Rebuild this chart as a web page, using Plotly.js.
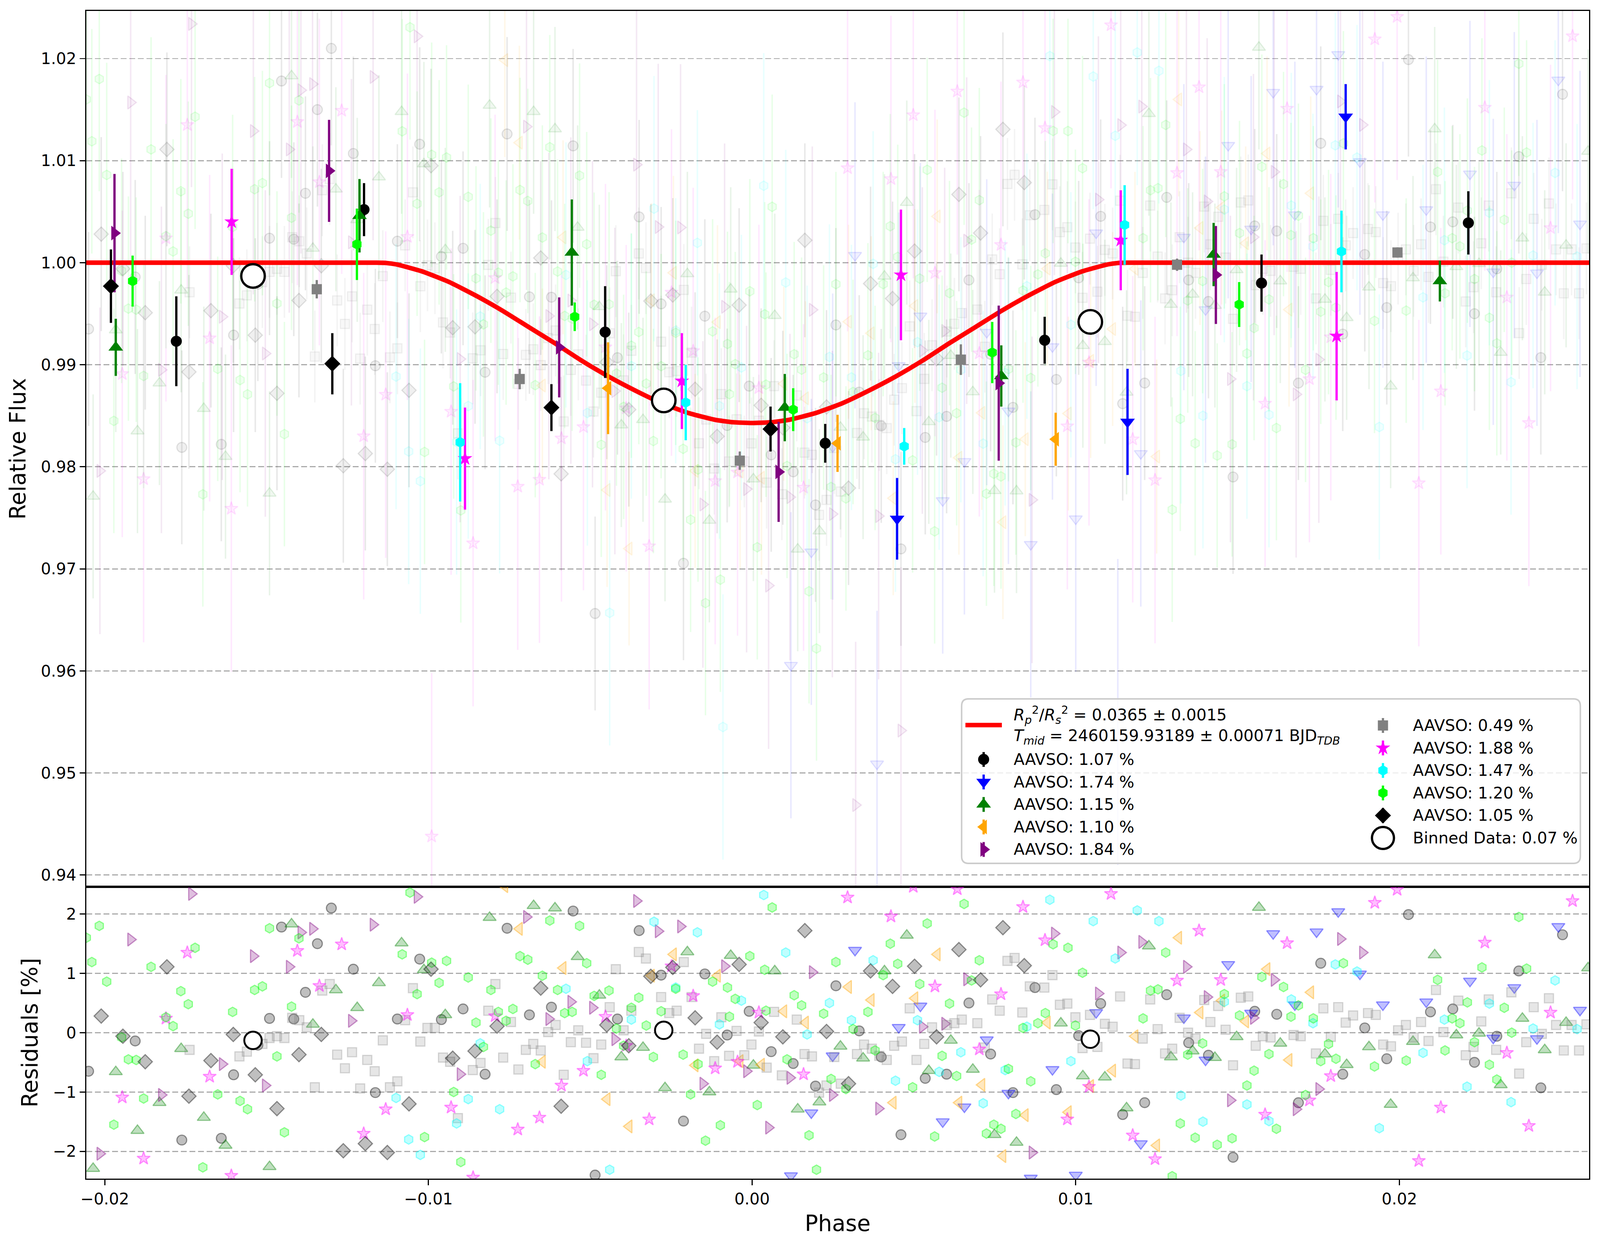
<!DOCTYPE html>
<html>
<head>
<meta charset="utf-8">
<script src="https://cdn.plot.ly/plotly-3.0.1.min.js"></script>
<style>html,body{margin:0;padding:0;background:#fff;overflow:hidden;}</style>
</head>
<body>
<div id="chart"></div>
<script>
// ---------------- DATA ----------------
const labels = ['AAVSO: 1.07 %','AAVSO: 1.74 %','AAVSO: 1.15 %','AAVSO: 1.10 %','AAVSO: 1.84 %',
                'AAVSO: 0.49 %','AAVSO: 1.88 %','AAVSO: 1.47 %','AAVSO: 1.20 %','AAVSO: 1.05 %'];
const binnedLabel = 'Binned Data: 0.07 %';
const modelLabel = '<i>R</i><sub><i>p</i></sub><sup>2</sup>/<i>R</i><sub><i>s</i></sub><sup>2</sup> = 0.0365 ± 0.0015<br><i>T</i><sub><i>mid</i></sub> = 2460159.93189 ± 0.00071 BJD<sub><i>TDB</i></sub>';

// transit model curve
const modelPhase = [-0.0206,-0.0116,-0.0113,-0.0110,-0.0102,-0.00937,-0.00855,-0.00773,-0.00691,-0.00609,-0.00527,-0.00445,-0.00361,-0.00279,-0.00197,-0.00115,-0.0006,0,
                    0.0006,0.00115,0.00197,0.00279,0.00361,0.00445,0.00527,0.00609,0.00691,0.00773,0.00855,0.00937,0.0102,0.0110,0.0113,0.0116,0.0259];
const modelFlux  = [1,1,0.99997,0.99984,0.99915,0.99812,0.9968,0.99533,0.99371,0.9921,0.99041,0.98887,0.98747,0.98623,0.98527,0.98461,0.98437,0.98429,
                    0.98437,0.98461,0.98527,0.98623,0.98747,0.98887,0.99041,0.9921,0.99371,0.99533,0.9968,0.99812,0.99915,0.99984,0.99997,1,1];

// typical raw error per dataset (relative flux)
const rawErr = [0.0095,0.015,0.010,0.0095,0.016,0.0045,0.016,0.013,0.011,0.0095];

// dataset 1 (1.07 %) raw phase / residual [%]
const d1Phase = [-0.0205,-0.01906,-0.01762,-0.0164,-0.01602,-0.01527,-0.01491,-0.01454,-0.01416,-0.0138,-0.01343,-0.013,-0.01232,-0.01164,-0.01096,-0.01027,-0.0096,-0.00893,-0.00825,-0.00757,-0.00688,-0.0062,-0.00553,-0.00485,-0.00416,-0.00349,-0.00281,-0.00212,-0.00146,-0.00077,-0.00009,0.00059,0.00127,0.00196,0.00259,0.00331,0.00399,0.0046,0.00535,0.00601,0.0067,0.00737,0.00806,0.00874,0.0094,0.01009,0.01077,0.01145,0.01213,0.01281,0.01349,0.0141,0.01486,0.01553,0.01621,0.01688,0.01757,0.01825,0.01893,0.01961,0.02028,0.02096,0.02165,0.02232,0.02301,0.02369,0.02437,0.02504];
const d1Res   = [-0.65,-0.14,-1.81,-1.78,-0.71,-0.21,0.24,1.78,0.23,0.68,1.50,2.10,1.07,-1.01,0.23,1.24,0.22,0.40,-0.70,1.76,0.30,0.43,2.05,-2.40,0.23,1.72,0.97,-1.49,0.99,-0.04,0.36,-0.32,-0.52,-0.90,0.79,0.03,-0.41,-1.72,-0.77,-0.70,0.50,-0.36,-1.01,0.76,-0.96,-0.05,0.49,-1.38,-1.18,0.64,-0.17,-0.38,-2.10,0.36,0.31,-1.18,1.17,-0.70,0.08,-0.44,1.99,0.35,0.40,-0.50,-0.06,1.04,-0.93,1.65];
const d1BinPhase = [-0.01779,-0.01199,-0.00454,0.00226,0.00904,0.01574,0.02213];
const d1BinFlux  = [0.9923,1.0052,0.9932,0.9823,0.9924,0.9980,1.0039];
const d1BinErr   = [0.0044,0.0026,0.0045,0.0019,0.0023,0.0028,0.0031];

// dataset 2 (1.74 %)
const d2Phase = [0.0012,0.00183,0.00249,0.00318,0.00386,0.00453,0.0052,0.00589,0.00656,0.00725,0.00792,0.00861,0.00928,0.01,0.01063,0.0113,0.01201,0.01334,0.01401,0.01471,0.01542,0.0161,0.01677,0.01744,0.01811,0.01878,0.01949,0.02083,0.02218,0.0229,0.02355,0.02425,0.02491,0.02558];
const d2Res   = [-2.41,-1.35,-0.39,1.39,-3.7,0.09,0.45,-1.50,-1.25,-0.12,-1.02,-2.45,-0.62,-2.40,0.34,-4.4,-1.87,0.25,-0.46,1.15,0.33,1.67,0.47,1.70,2.04,0.99,0.47,0.52,0.87,-0.09,0.76,-0.10,1.79,0.38];
const d2BinPhase = [0.00448,0.0116,0.01834];
const d2BinFlux  = [0.9749,0.9844,1.0143];
const d2BinErr   = [0.0040,0.0052,0.0032];

// dataset 3 (1.15 %)
const d3Phase = [-0.02036,-0.01966,-0.01899,-0.01831,-0.01764,-0.01694,-0.01627,-0.01491,-0.01423,-0.01357,-0.01286,-0.0122,-0.01153,-0.01083,-0.01014,-0.00948,-0.00811,-0.00675,-0.00609,-0.00539,-0.00472,-0.00404,-0.00337,-0.00269,-0.002,-0.00132,-0.00066,0.00004,0.0007,0.00141,0.00208,0.00273,0.00343,0.00409,0.00478,0.00546,0.00614,0.00682,0.00749,0.00817,0.00954,0.01022,0.0109,0.01157,0.01226,0.01294,0.01361,0.0143,0.01497,0.01566,0.01632,0.0177,0.01837,0.01906,0.01973,0.02042,0.02109,0.02176,0.02246,0.02313,0.0238,0.02449,0.02515,0.02583];
const d3Res   = [-2.29,-0.66,-1.65,-1.18,-0.27,-1.43,-1.90,-2.26,1.83,0.14,0.72,0.42,0.84,1.51,1.06,0.30,1.94,2.14,2.10,1.28,0.63,-0.41,-0.25,-0.93,1.36,-1.00,1.30,-0.55,1.04,-1.29,-1.17,-0.23,-0.43,1.04,1.64,-0.64,-0.13,-0.62,-1.72,-1.85,0.16,-0.73,-0.75,-1.27,1.46,-0.41,-0.31,-0.42,-0.07,2.11,-0.18,-0.36,-0.54,-0.24,-1.21,-0.15,1.31,-0.04,-0.01,-0.88,0.24,-0.29,0.17,1.09];
const d3BinPhase = [-0.01966,-0.01213,-0.00557,0.00101,0.0077,0.01426,0.02125];
const d3BinFlux  = [0.9917,1.0046,1.0010,0.9858,0.9889,1.0008,0.9982];
const d3BinErr   = [0.0028,0.0036,0.0052,0.0033,0.0030,0.0031,0.0020];

// dataset 4 (1.10 %)
const d4Phase = [-0.00764,-0.00719,-0.00648,-0.00584,-0.00448,-0.0038,-0.00311,-0.00243,-0.00176,-0.00107,-0.00037,0.00029,0.00098,0.00165,0.00298,0.00368,0.00436,0.00503,0.00572,0.00639,0.0071,0.00775,0.00844,0.00912,0.00977,0.01046,0.01114,0.01183,0.0125,0.01318,0.01384,0.01451,0.01525,0.01591,0.01659,0.01726];
const d4Res   = [2.47,1.75,-0.49,1.09,-1.12,-1.58,0.96,1.32,-0.55,0.96,-0.48,-0.54,0.36,0.17,0.77,0.55,-1.18,0.58,1.32,-1.18,-0.88,-2.08,-1.39,0.17,-1.34,-0.90,-0.64,-0.06,-1.90,1.60,0.34,0.54,0.19,1.07,-0.46,0.68];
const d4BinPhase = [-0.00445,0.00264,0.00938];
const d4BinFlux  = [0.9877,0.9823,0.9827];
const d4BinErr   = [0.0045,0.0028,0.0026];

// dataset 5 (1.84 %)
const d5Phase = [-0.02015,-0.0192,-0.01825,-0.01732,-0.01637,-0.01541,-0.01504,-0.0143,-0.01394,-0.01358,-0.01238,-0.01171,-0.01035,-0.00902,-0.00697,-0.00628,-0.0056,-0.00493,-0.00424,-0.00357,-0.0029,-0.00221,-0.00152,-0.00085,-0.00017,0.00051,0.00117,0.00186,0.00248,0.0032,0.00391,0.0046,0.00526,0.00595,0.00663,0.00865,0.00934,0.0107,0.01139,0.01204,0.01342,0.01406,0.01478,0.01549,0.01613,0.01681,0.01751,0.01818,0.01886];
const d5Res   = [-2.04,1.57,-1.05,2.34,-0.53,1.29,-0.89,1.11,1.69,1.75,0.20,1.82,2.29,-0.70,1.95,0.23,0.52,0.42,-0.11,2.22,1.71,1.79,-0.86,1.12,-0.65,-1.60,-0.76,1.02,-1.05,-4.0,-1.28,-3.5,0.10,0.15,0.90,-2.02,1.67,0.66,1.35,1.53,1.11,0.60,-1.14,0.25,0.89,-1.29,-0.95,1.58,1.35];
const d5BinPhase = [-0.0197,-0.01307,-0.00596,0.00082,0.00762,0.01433];
const d5BinFlux  = [1.0029,1.0090,0.9917,0.9795,0.9882,0.9988];
const d5BinErr   = [0.0058,0.0050,0.0049,0.0049,0.0076,0.0048];

// dataset 6 (0.49 %)
const d6Phase = [-0.01738,-0.01584,-0.01561,-0.01513,-0.01491,-0.01468,-0.01445,-0.01421,-0.01399,-0.01376,-0.01351,-0.01328,-0.01305,-0.01282,-0.01258,-0.01236,-0.01211,-0.01189,-0.01166,-0.01141,-0.01119,-0.01096,-0.01072,-0.01048,-0.01025,-0.01003,-0.0098,-0.00955,-0.00933,-0.00909,
  -0.00863,-0.00839,-0.00815,-0.00793,-0.00769,-0.00745,-0.00722,-0.00699,-0.00676,-0.00653,-0.0063,-0.00607,-0.00582,-0.0056,-0.00537,-0.00513,-0.0049,-0.00466,-0.0044,-0.00421,-0.00397,-0.00373,-0.0035,-0.00328,-0.00281,-0.00256,-0.00233,-0.00211,-0.00187,-0.00164,-0.00142,-0.00117,-0.00095,-0.00071,-0.00048,-0.00024,-0.00002,0.00021,0.00045,0.00068,0.00092,0.00138,0.00162,0.00185,0.00207,0.0023,
  0.00254,0.00274,0.00324,0.00346,0.0037,0.00393,0.00416,0.00439,0.00463,0.00487,0.00508,0.00532,0.00556,0.00602,0.00625,0.00648,0.00696,0.00719,0.00742,0.00765,0.00789,0.00811,0.00835,0.00858,0.00903,0.00928,0.00951,0.00974,0.00999,0.01021,0.01044,0.01067,0.0109,0.01114,0.01137,0.0116,0.01183,0.01207,0.0123,0.01253,0.01276,0.01298,0.01321,0.01347,0.0137,
  0.01397,0.01416,0.0144,0.01463,0.01486,0.0151,0.01533,0.01556,0.01578,0.01602,0.01673,0.01695,0.01742,0.01765,0.01788,0.01811,0.01834,0.01857,0.01903,0.01927,0.0195,0.01974,0.01996,0.0202,0.02044,0.02067,0.0209,0.02113,0.02136,0.02182,0.02205,0.02229,0.02253,0.02276,0.02299,0.02346,0.0237,0.02392,0.02415,0.0244,0.02462,0.02484,0.02508,0.02532,0.02555,0.02578];
const d6Res   = [-0.29,-0.40,-0.32,-0.19,-0.09,-0.06,-0.09,0.25,0.21,0.09,-0.92,0.71,0.82,-0.37,-0.60,-0.33,-0.94,-0.46,-0.65,-0.13,-0.92,-0.82,0.21,0.75,-0.15,0.08,0.08,-0.42,-0.49,-1.44,
  -0.63,-0.51,0.37,0.82,-0.42,0.18,-0.62,-0.29,-0.19,-0.30,0.01,0.13,-0.71,-0.16,0.04,-0.17,-0.43,-0.20,0.43,1.07,0.04,0.37,1.36,1.25,0.60,0.33,0.37,1.19,0.60,-0.27,-0.02,-0.48,0.26,-0.39,0.03,-0.38,-0.20,0.02,-0.59,0.35,-0.72,0.22,-0.36,-0.40,-1.01,-0.89,
  -0.41,-0.86,-0.36,-0.20,-0.27,-0.39,-0.46,-0.22,-0.15,0.41,-0.46,-0.19,0.09,0.13,0.16,0.22,0.16,-0.25,0.56,0.37,1.21,1.26,0.34,0.78,0.76,0.97,0.47,0.49,0.26,-0.26,0.30,-0.24,0.15,0.10,0.61,-0.52,-0.53,-0.10,0.56,0.06,-0.35,-0.27,0.25,0.00,-0.10,
  0.55,0.18,0.45,0.05,-0.55,0.59,0.61,-0.22,-0.06,-0.08,-0.04,-0.06,-0.35,0.41,-0.07,0.43,0.17,0.29,0.33,0.30,-0.20,-0.23,0.04,0.13,-0.08,0.18,-0.14,0.72,0.01,0.54,-0.38,-0.24,0.19,0.56,-0.29,0.68,-0.69,-0.16,0.43,-0.02,0.58,0.13,-0.30,0.13,-0.30,0.14];
const d6BinPhase = [-0.01345,-0.00718,-0.00038,0.00645,0.01313,0.01994];
const d6BinFlux  = [0.9974,0.9886,0.9806,0.9905,0.9998,1.0010];
const d6BinErr   = [0.0009,0.0010,0.0009,0.0015,0.0006,0.0005];

// dataset 7 (1.88 %)
const d7Phase = [-0.01946,-0.0188,-0.01811,-0.01745,-0.01676,-0.01609,-0.01405,-0.01337,-0.01268,-0.012,-0.01132,-0.01065,-0.0099,-0.0093,-0.00862,-0.00794,-0.00724,-0.00657,-0.00589,-0.00521,-0.00453,-0.00389,-0.00318,-0.00249,-0.00182,-0.00114,-0.00045,0.00021,0.00159,0.00295,0.00429,0.00498,0.00565,0.00634,0.00702,0.00769,0.00837,0.00905,0.00974,0.01041,0.01109,0.01176,0.01245,0.01313,0.01381,0.01448,0.01585,0.01653,0.01722,0.01788,0.01924,0.01993,0.0206,0.02128,0.02264,0.02332,0.024,0.02467,0.02535];
const d7Res   = [-1.09,-2.12,0.24,1.35,-0.74,-2.41,1.38,0.79,1.49,-1.70,-1.29,0.30,-5.5,-1.26,-2.44,0.28,-1.63,-1.43,-0.89,-0.64,0.27,-0.22,-1.46,1.12,0.62,-0.60,-0.49,0.34,-0.70,2.28,1.96,2.46,0.78,2.42,-0.28,0.65,2.12,1.56,-1.46,-0.91,2.34,-1.73,-2.13,0.88,1.72,0.89,-1.38,1.51,-1.14,-0.73,2.19,2.41,-2.16,-1.26,1.52,-0.34,-1.57,0.34,2.22];
const d7BinPhase = [-0.01608,-0.00887,-0.00217,0.0046,0.01139,0.01806];
const d7BinFlux  = [1.0040,0.9808,0.9884,0.9988,1.0022,0.9928];
const d7BinErr   = [0.0052,0.0050,0.0047,0.0064,0.0049,0.0063];

// dataset 8 (1.47 %)
const d8Phase = [-0.011,-0.01061,-0.01025,-0.00913,-0.00877,-0.0084,-0.0078,-0.00575,-0.00509,-0.0044,-0.00373,-0.00303,-0.00236,-0.00169,-0.00101,-0.0009,-0.00033,0.00036,0.00104,0.0017,0.00239,0.00307,0.00374,0.00443,0.00511,0.00578,0.00645,0.00714,0.00782,0.00849,0.0092,0.00985,0.01054,0.01122,0.0119,0.01257,0.01325,0.01393,0.01459,0.01529,0.01597,0.01666,0.01733,0.01802,0.01869,0.01938,0.02073,0.02139,0.02209,0.02278,0.02345,0.02413,0.02481,0.02549];
const d8Res   = [-1.10,-1.80,-2.06,-1.53,-1.12,-0.18,-1.29,0.74,-0.48,-2.31,0.22,1.87,0.76,1.69,0.14,-3.0,0.54,2.32,1.35,-0.03,0.50,0.21,1.22,-0.81,0.21,-0.66,-0.33,-1.19,-0.63,0.10,2.24,-0.48,1.88,1.25,2.06,1.88,-1.06,-1.50,0.52,-1.21,-1.49,0.56,0.16,1.15,1.03,-1.61,-0.34,0.22,-0.91,0.49,-1.17,0.07,0.88,0.06];
const d8BinPhase = [-0.00902,-0.00205,0.0047,0.01151,0.01821];
const d8BinFlux  = [0.9824,0.9863,0.9820,1.0037,1.0011];
const d8BinErr   = [0.0058,0.0037,0.0018,0.0039,0.0040];

// dataset 9 (1.20 %)
const d9Phase = [-0.02057,-0.0204,-0.02017,-0.01994,-0.01972,-0.01948,-0.01927,-0.01903,-0.0188,-0.01857,-0.01811,-0.01789,-0.01765,-0.01742,-0.01721,-0.01697,-0.01651,-0.01605,-0.01582,-0.01559,-0.01537,-0.01513,-0.01491,-0.01468,-0.01445,-0.01423,-0.014,-0.01081,-0.01057,-0.01035,-0.01012,-0.0099,-0.00967,-0.00944,-0.00922,-0.009,
  -0.00877,-0.00853,-0.0083,-0.00807,-0.00784,-0.0076,-0.00739,-0.00717,-0.00693,-0.0067,-0.00648,-0.00625,-0.00601,-0.00579,-0.00556,-0.00533,-0.00511,-0.00488,-0.00466,-0.00442,-0.00419,-0.00397,-0.00373,-0.0035,-0.00327,-0.00305,-0.00281,-0.00236,-0.00213,-0.0019,-0.00167,-0.00144,-0.00122,-0.00098,-0.00076,-0.0007,-0.00052,-0.00007,0.00016,0.00039,0.00043,0.00062,0.00108,0.0013,0.00153,0.00176,0.00199,0.00221,0.00244,0.00259,
  0.0029,0.00312,0.00358,0.0038,0.00405,0.00427,0.0045,0.00496,0.00518,0.00541,0.00564,0.00587,0.0061,0.00632,0.00655,0.00678,0.00702,0.00724,0.00747,0.00769,0.00792,0.00815,0.00837,0.00861,0.00883,0.00906,0.0093,0.00976,0.00999,0.01021,0.01208,0.01231,0.01254,0.01278,0.01298,0.01323,0.01346,0.01369,0.01392,
  0.01437,0.01459,0.01483,0.01506,0.01529,0.01551,0.01575,0.01597,0.0162,0.01642,0.01665,0.01688,0.0171,0.01734,0.01757,0.01781,0.01804,0.01827,0.01923,0.02021,0.02118,0.02141,0.02163,0.02187,0.0221,0.02232,0.02255,0.02278,0.02301,0.02324,0.02347,0.02369,0.02393];
const d9Res   = [1.60,1.19,1.80,0.86,-1.55,-0.08,-0.45,-0.46,-1.11,1.11,0.26,0.11,0.70,0.48,1.43,-2.27,-1.04,0.35,-1.15,-1.29,0.72,0.78,1.76,-0.40,-1.68,0.44,1.59,1.32,2.36,0.65,-1.76,1.18,0.84,1.21,-1.00,-2.18,
  0.93,0.17,-0.24,0.72,0.35,0.20,0.40,1.29,1.23,-0.53,0.96,1.89,0.72,0.33,0.35,1.80,1.17,0.62,-0.71,0.71,0.07,-0.22,0.42,0.59,0.12,-0.41,0.36,0.74,-0.37,-1.04,-0.53,-1.82,0.86,-1.56,0.76,0.27,0.57,1.29,-1.22,1.06,0.37,2.11,-0.45,0.63,0.46,-1.73,-2.31,0.32,-0.78,1.19,
  -0.95,0.06,0.35,-0.30,0.97,1.50,1.16,-0.92,0.82,1.84,-1.75,-0.39,0.49,-0.73,2.17,0.88,1.22,-1.70,-1.55,-1.62,-0.61,-1.37,0.08,-0.82,0.16,0.33,1.49,1.43,0.12,1.01,0.24,0.71,0.73,1.35,-2.42,-1.53,-0.37,-1.77,-0.18,
  -1.89,0.65,-1.78,0.29,-0.89,-0.64,0.94,-0.36,-1.62,0.77,0.27,0.46,-1.05,0.24,-0.48,-0.19,-0.44,1.17,-0.57,-0.47,0.89,-0.30,0.24,0.16,0.51,-0.16,1.10,-0.54,-0.79,0.42,0.00,1.95,1.08];
const d9BinPhase = [-0.01914,-0.01221,-0.00548,0.00127,0.00742,0.01505];
const d9BinFlux  = [0.9982,1.0018,0.9947,0.9856,0.9912,0.9959];
const d9BinErr   = [0.0025,0.0035,0.0014,0.0021,0.0030,0.0022];

// dataset 10 (1.05 %)
const d10Phase = [-0.02011,-0.01944,-0.01875,-0.01808,-0.0174,-0.01672,-0.01603,-0.01535,-0.01468,-0.014,-0.01331,-0.01263,-0.01195,-0.01127,-0.0106,-0.00992,-0.00925,-0.00856,-0.00788,-0.00653,-0.0059,-0.00449,-0.00381,-0.00313,-0.00245,-0.00176,-0.00108,-0.0004,0.00028,0.00095,0.00163,0.0023,0.00298,0.00366,0.00434,0.00502,0.0057,0.00639,0.00706,0.00775,0.00841];
const d10Res   = [0.28,-0.06,-0.49,1.11,-1.07,-0.47,-0.03,-0.71,-1.28,-0.37,-0.03,-1.99,-1.87,-2.02,-1.20,1.07,-0.43,-0.31,0.11,0.75,-1.24,0.13,-0.22,0.95,1.10,0.25,-0.16,1.15,0.17,-0.07,1.72,0.02,-0.86,1.04,0.78,1.12,-0.07,1.40,0.89,1.77,1.13];
const d10BinPhase = [-0.01981,-0.01297,-0.0062,0.00057];
const d10BinFlux  = [0.9977,0.9901,0.9858,0.9837];
const d10BinErr   = [0.0036,0.0030,0.0023,0.0022];

// overall binned data
const binPhase = [-0.01542,-0.00273,0.01045];
const binFlux  = [0.9987,0.9865,0.9942];
const binRes   = [-0.13,0.04,-0.11];

// ---------------- STYLE / SIZING ----------------
const REFW = 4215, REFH = 3192;
const W = Math.min(window.innerWidth || 4096, 4096);
const H = Math.min(window.innerHeight || REFH, REFH);
const sx = W/REFW, sy = H/REFH, k = Math.min(sx, sy);
const S = v => v*k;
document.getElementById('chart').style.width = W+'px';
document.getElementById('chart').style.height = H+'px';

const rgb = [[0,0,0],[0,0,255],[0,128,0],[255,165,0],[128,0,128],[128,128,128],[255,0,255],[0,255,255],[0,255,0],[0,0,0]];
const symbols = ['circle','triangle-down','triangle-up','triangle-left','triangle-right','square','star','hexagon','hexagon','diamond'];
const msize = [26,30,30,30,30,24,26,25,25,29];
const FONT = 'DejaVu Sans';

const sets = [
  [d1Phase,d1Res,d1BinPhase,d1BinFlux,d1BinErr],
  [d2Phase,d2Res,d2BinPhase,d2BinFlux,d2BinErr],
  [d3Phase,d3Res,d3BinPhase,d3BinFlux,d3BinErr],
  [d4Phase,d4Res,d4BinPhase,d4BinFlux,d4BinErr],
  [d5Phase,d5Res,d5BinPhase,d5BinFlux,d5BinErr],
  [d6Phase,d6Res,d6BinPhase,d6BinFlux,d6BinErr],
  [d7Phase,d7Res,d7BinPhase,d7BinFlux,d7BinErr],
  [d8Phase,d8Res,d8BinPhase,d8BinFlux,d8BinErr],
  [d9Phase,d9Res,d9BinPhase,d9BinFlux,d9BinErr],
  [d10Phase,d10Res,d10BinPhase,d10BinFlux,d10BinErr]
];

function rgba(i,a){const c=rgb[i];return 'rgba('+c[0]+','+c[1]+','+c[2]+','+a+')';}
function modelAt(p){
  for(let j=0;j<modelPhase.length-1;j++){
    if(p>=modelPhase[j]&&p<=modelPhase[j+1]){
      const t=(p-modelPhase[j])/(modelPhase[j+1]-modelPhase[j]);
      return modelFlux[j]+t*(modelFlux[j+1]-modelFlux[j]);
    }
  }
  return 1;
}

const traces = [];
// faint raw data in the light-curve panel
sets.forEach((s,i)=>{
  traces.push({type:'scatter',mode:'markers',x:s[0],y:s[0].map((p,j)=>modelAt(p)+s[1][j]/100),
    xaxis:'x',yaxis:'y',showlegend:false,hoverinfo:'skip',
    marker:{symbol:symbols[i],size:S(msize[i]),color:rgba(i,0.06),line:{color:rgba(i,0.11),width:S(3)}},
    error_y:{type:'constant',value:rawErr[i],color:rgba(i,0.09),thickness:S(4),width:0}});
});
// residuals
sets.forEach((s,i)=>{
  traces.push({type:'scatter',mode:'markers',x:s[0],y:s[1],xaxis:'x2',yaxis:'y2',showlegend:false,hoverinfo:'skip',
    marker:{symbol:symbols[i],size:S(msize[i]),color:rgba(i,i===5?0.2:0.25),line:{color:rgba(i,i===5?0.3:0.4),width:S(3)}}});
});
// model
traces.push({type:'scatter',mode:'lines',x:modelPhase,y:modelFlux,xaxis:'x',yaxis:'y',showlegend:false,
  line:{color:'#ff0000',width:S(12),shape:'spline',smoothing:0.5}});
// binned per dataset
sets.forEach((s,i)=>{
  traces.push({type:'scatter',mode:'markers',x:s[2],y:s[3],xaxis:'x',yaxis:'y',showlegend:false,
    marker:{symbol:symbols[i],size:S(msize[i]*1.12),color:rgba(i,1),line:{width:0}},
    error_y:{type:'data',array:s[4],color:rgba(i,1),thickness:S(6),width:0}});
});
// overall binned
traces.push({type:'scatter',mode:'markers',x:binPhase,y:binFlux,xaxis:'x',yaxis:'y',showlegend:false,
  marker:{symbol:'circle',size:S(62),color:'#ffffff',line:{color:'#000000',width:S(6)}}});
traces.push({type:'scatter',mode:'markers',x:binPhase,y:binRes,xaxis:'x2',yaxis:'y2',showlegend:false,
  marker:{symbol:'circle',size:S(46),color:'#ffffff',line:{color:'#000000',width:S(5)}}});

// ---------------- custom legend (overlay axes in reference-pixel units) ----------------
const LG = {c1Mark:2591, c1Text:2668, c2Mark:3643, c2Text:3720, c1Model:1856, c1Start:1944, c2Start:1857, step:57.6};
const annotations = [];
traces.push({type:'scatter',mode:'lines',x:[2543,2639],y:[LG.c1Model,LG.c1Model],xaxis:'x3',yaxis:'y3',showlegend:false,
  hoverinfo:'skip',line:{color:'#ff0000',width:S(12)}});
annotations.push({xref:'x3',yref:'y3',x:LG.c1Text,y:LG.c1Model,xanchor:'left',yanchor:'middle',showarrow:false,align:'left',
  text:modelLabel,font:{family:FONT,size:S(42),color:'#000'}});
labels.forEach((lab,i)=>{
  const col2 = i>=5;
  const mx = col2?LG.c2Mark:LG.c1Mark;
  const tx = col2?LG.c2Text:LG.c1Text;
  const y = col2?LG.c2Start+(i-5)*LG.step:LG.c1Start+i*LG.step;
  traces.push({type:'scatter',mode:'markers',x:[mx],y:[y],xaxis:'x3',yaxis:'y3',showlegend:false,hoverinfo:'skip',
    marker:{symbol:symbols[i],size:S(msize[i]*1.12),color:rgba(i,1),line:{width:0}},
    error_y:{type:'constant',value:19,color:rgba(i,1),thickness:S(6),width:0}});
  annotations.push({xref:'x3',yref:'y3',x:tx,y:y,xanchor:'left',yanchor:'middle',showarrow:false,
    text:lab,font:{family:FONT,size:S(42),color:'#000'}});
});
{
  const y = LG.c2Start+5*LG.step;
  traces.push({type:'scatter',mode:'markers',x:[LG.c2Mark],y:[y],xaxis:'x3',yaxis:'y3',showlegend:false,hoverinfo:'skip',
    marker:{symbol:'circle',size:S(58),color:'#ffffff',line:{color:'#000',width:S(6)}}});
  annotations.push({xref:'x3',yref:'y3',x:LG.c2Text,y:y,xanchor:'left',yanchor:'middle',showarrow:false,
    text:binnedLabel,font:{family:FONT,size:S(42),color:'#000'}});
}
const bx0=2533,bx1=4163,by0=1789,by1=2210,rr=18;
const boxPath = 'M'+(bx0+rr)+','+by0+' L'+(bx1-rr)+','+by0+' Q'+bx1+','+by0+' '+bx1+','+(by0+rr)+
  ' L'+bx1+','+(by1-rr)+' Q'+bx1+','+by1+' '+(bx1-rr)+','+by1+' L'+(bx0+rr)+','+by1+' Q'+bx0+','+by1+' '+bx0+','+(by1-rr)+
  ' L'+bx0+','+(by0+rr)+' Q'+bx0+','+by0+' '+(bx0+rr)+','+by0+' Z';

const axCommon = {showline:true,mirror:true,linecolor:'#000',linewidth:S(3),zeroline:false,
  tickfont:{family:FONT,size:S(42),color:'#000'},ticks:'outside',ticklen:S(15),tickwidth:S(3),tickcolor:'#000'};
const XR = [-0.02057,0.02586];
const gdash = Math.round(S(15))+'px,'+Math.round(S(7))+'px';

const layout = {
  width:W,height:H,paper_bgcolor:'#ffffff',plot_bgcolor:'rgba(0,0,0,0)',
  margin:{l:227*sx,r:29*sx,t:28*sy,b:175*sy},showlegend:false,
  font:{family:FONT,size:S(42),color:'#000'},
  xaxis:Object.assign({},axCommon,{domain:[0,1],anchor:'y',range:XR,showticklabels:false,ticks:'',showgrid:false,dtick:0.01}),
  yaxis:Object.assign({},axCommon,{domain:[0.25,1],anchor:'x',range:[0.93885,1.02467],tick0:0.94,dtick:0.01,tickformat:'.2f',
    showgrid:true,gridcolor:'#ababab',gridwidth:S(3),griddash:gdash,
    title:{text:'Relative Flux',font:{family:FONT,size:S(58),color:'#000'},standoff:S(22)}}),
  xaxis2:Object.assign({},axCommon,{domain:[0,1],anchor:'y2',range:XR,tick0:0,dtick:0.01,tickformat:'.2f',showgrid:false,
    title:{text:'Phase',font:{family:FONT,size:S(58),color:'#000'},standoff:S(20)}}),
  yaxis2:Object.assign({},axCommon,{domain:[0,0.25],anchor:'x2',range:[-2.46,2.46],tick0:0,dtick:1,
    showgrid:true,gridcolor:'#ababab',gridwidth:S(3),griddash:gdash,
    title:{text:'Residuals [%]',font:{family:FONT,size:S(58),color:'#000'},standoff:S(22)}}),
  xaxis3:{domain:[0,1],anchor:'y3',range:[227,4186],visible:false,fixedrange:true},
  yaxis3:{domain:[0,1],anchor:'x3',range:[3017,28],visible:false,fixedrange:true},
  shapes:[{type:'path',xref:'x3',yref:'y3',path:boxPath,layer:'below',fillcolor:'rgba(255,255,255,0.8)',line:{color:'#cccccc',width:S(4)}}],
  annotations:annotations
};

Plotly.newPlot('chart',traces,layout,{staticPlot:true,displayModeBar:false});
</script>
</body>
</html>
